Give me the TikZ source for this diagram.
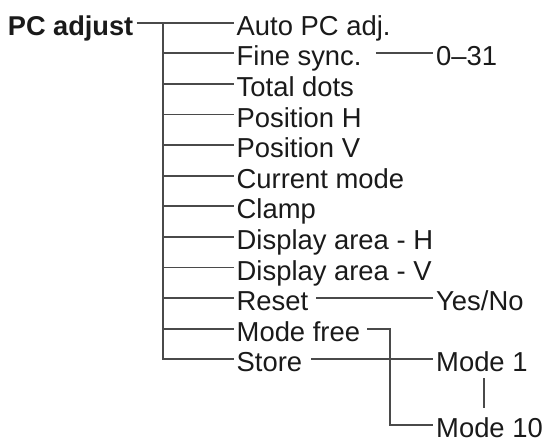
\documentclass[tikz,border=0pt]{standalone}
\usepackage{fontspec}
\setmainfont{Liberation Sans}
\usetikzlibrary{calc}
\definecolor{ln}{HTML}{4A4A4A}
\definecolor{tx}{HTML}{1A1A1A}
\begin{document}
\begin{tikzpicture}[x=1pt,y=-1pt,
  lbl/.style={inner xsep=3pt, inner ysep=0pt, text height=26pt, text depth=0.8pt,
    font=\fontsize{27.4pt}{30pt}\selectfont, text=tx, anchor=west},
  conn/.style={draw=ln, line width=1.9pt}]
\useasboundingbox (0,0) rectangle (549,443);
\node[lbl, anchor=east, font=\bfseries\fontsize{27.2pt}{30pt}\selectfont] (root) at (136.5,22.7) {PC adjust};
\node[lbl] (auto)  at (233.5,22.7)  {Auto PC adj.};
\node[lbl] (fine)  at (233.5,53.3)  {Fine sync.};
\node[lbl] (total) at (233.5,83.9)  {Total dots};
\node[lbl] (posh)  at (233.5,114.5) {Position H};
\node[lbl] (posv)  at (233.5,145.1) {Position V};
\node[lbl] (cur)   at (233.5,175.7) {Current mode};
\node[lbl] (clamp) at (233.5,206.3) {Clamp};
\node[lbl] (dah)   at (233.5,236.9) {Display area - H};
\node[lbl] (dav)   at (233.5,267.5) {Display area - V};
\node[lbl] (reset) at (233.5,298.1) {Reset};
\node[lbl] (mfree) at (233.5,328.7) {Mode free};
\node[lbl] (store) at (233.5,359.3) {Store};
\node[lbl] (range) at (433,53.3)  {0–31};
\node[lbl] (yesno) at (433,298.1) {Yes/No};
\node[lbl] (m1)    at (433,359.3) {Mode 1};
\node[lbl] (m10)   at (433,425)   {Mode 10};
\coordinate (tk) at (162.7,22.7);
\coordinate (mfc) at (390,328.7);
\draw[conn] (root.east) -- (auto.west);
\draw[conn] (tk) -- (tk |- store.west) -- (store.west);
\foreach \n in {fine,total,posh,posv,cur,clamp,dah,dav,reset,mfree}
  \draw[conn] (tk |- \n.west) -- (\n.west);
\draw[conn] ([xshift=11pt]fine.east) -- (range.west);
\draw[conn] ([xshift=5pt]reset.east) -- (yesno.west);
\draw[conn] ([xshift=4pt]mfree.east) -- (mfc) |- (m10.west);
\draw[conn] ([xshift=6pt]store.east) -- (m1.west);
\draw[conn] ($(m1.west)+(51,19)$) -- ($(m10.west)+(51,-17)$);
\end{tikzpicture}
\end{document}
